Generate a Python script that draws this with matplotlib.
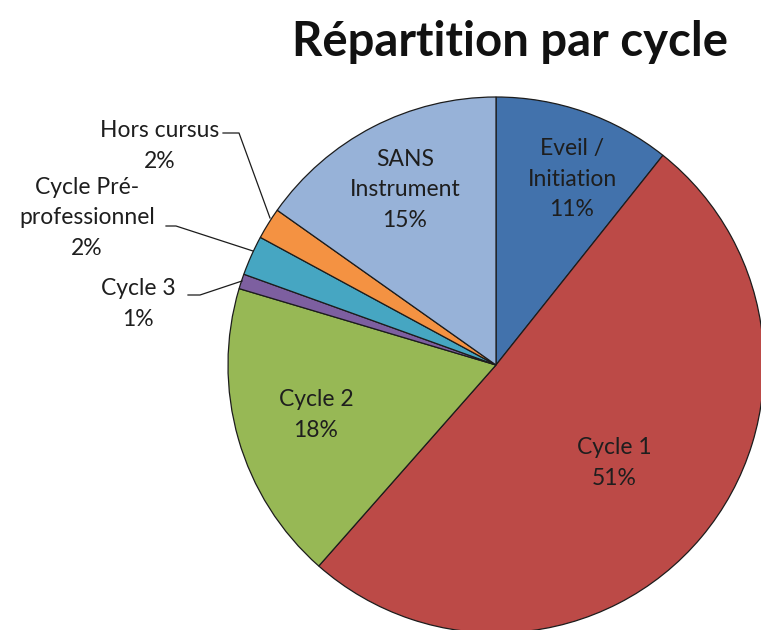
import matplotlib.pyplot as plt

# Répartition par cycle (percent)
labels = ["Eveil /\nInitiation", "Cycle 1", "Cycle 2", "Cycle 3",
          "Cycle Pré-\nprofessionnel", "Hors cursus", "SANS\nInstrument"]
values = [10.7, 50.8, 18.1, 0.9, 2.4, 1.9, 15.2]
colors = ["#4272AC", "#BC4A47", "#97B855", "#7D5FA0", "#46A6C2", "#F49242", "#97B2D8"]

# pixel geometry of the reference (761x630)
W, H = 761, 630
cx, cy, R = 496, 365, 268


def d(px, py):
    # pixel -> data coords (pie radius = 1)
    return (px - cx) / R, (cy - py) / R


plt.rcParams['font.family'] = ['Lato', 'DejaVu Sans']

fig = plt.figure(figsize=(W / 100, H / 100), dpi=100)
ax = fig.add_axes([0, 0, 1, 1])

wedges, _ = ax.pie(values, colors=colors, startangle=90, counterclock=False,
                   radius=1, wedgeprops=dict(edgecolor="#1c1c1c", linewidth=0.9))

ax.set_xlim(-cx / R, (W - cx) / R)
ax.set_ylim(-(H - cy) / R, cy / R)
ax.set_aspect('auto')
ax.axis('off')

txt = "#1e1e1e"
fs = 16.5
ls = 1.55
pct = [f"{round(v)}%" for v in values]

# labels inside the slices
inside = {0: (572, 179), 1: (614, 463), 2: (316, 415), 6: (405, 190)}
for i, (px, py) in inside.items():
    x, y = d(px, py)
    ax.text(x, y, labels[i] + "\n" + pct[i], ha='center', va='center',
            fontsize=fs, color=txt, linespacing=ls)

# labels outside with leader lines: text centre, line points
outside = {
    5: ((160, 146), [(223, 133), (239, 133), (270, 218)]),
    4: ((87, 218), [(166, 226), (176, 226), (253, 251)]),
    3: ((138, 304), [(188, 295), (200, 295), (242, 281)]),
}
for i, ((px, py), pts) in outside.items():
    x, y = d(px, py)
    ax.text(x, y, labels[i] + "\n" + pct[i], ha='center', va='center',
            fontsize=fs, color=txt, linespacing=ls)
    lx = [d(p[0], p[1])[0] for p in pts]
    ly = [d(p[0], p[1])[1] for p in pts]
    ax.plot(lx, ly, color="#1c1c1c", linewidth=0.9)

tx, ty = d(510, 42)
ax.text(tx, ty, "Répartition par cycle", ha='center', va='center',
        fontsize=34, fontweight='bold', color="#111111")

fig.savefig("out.png", dpi=100, facecolor='white')
